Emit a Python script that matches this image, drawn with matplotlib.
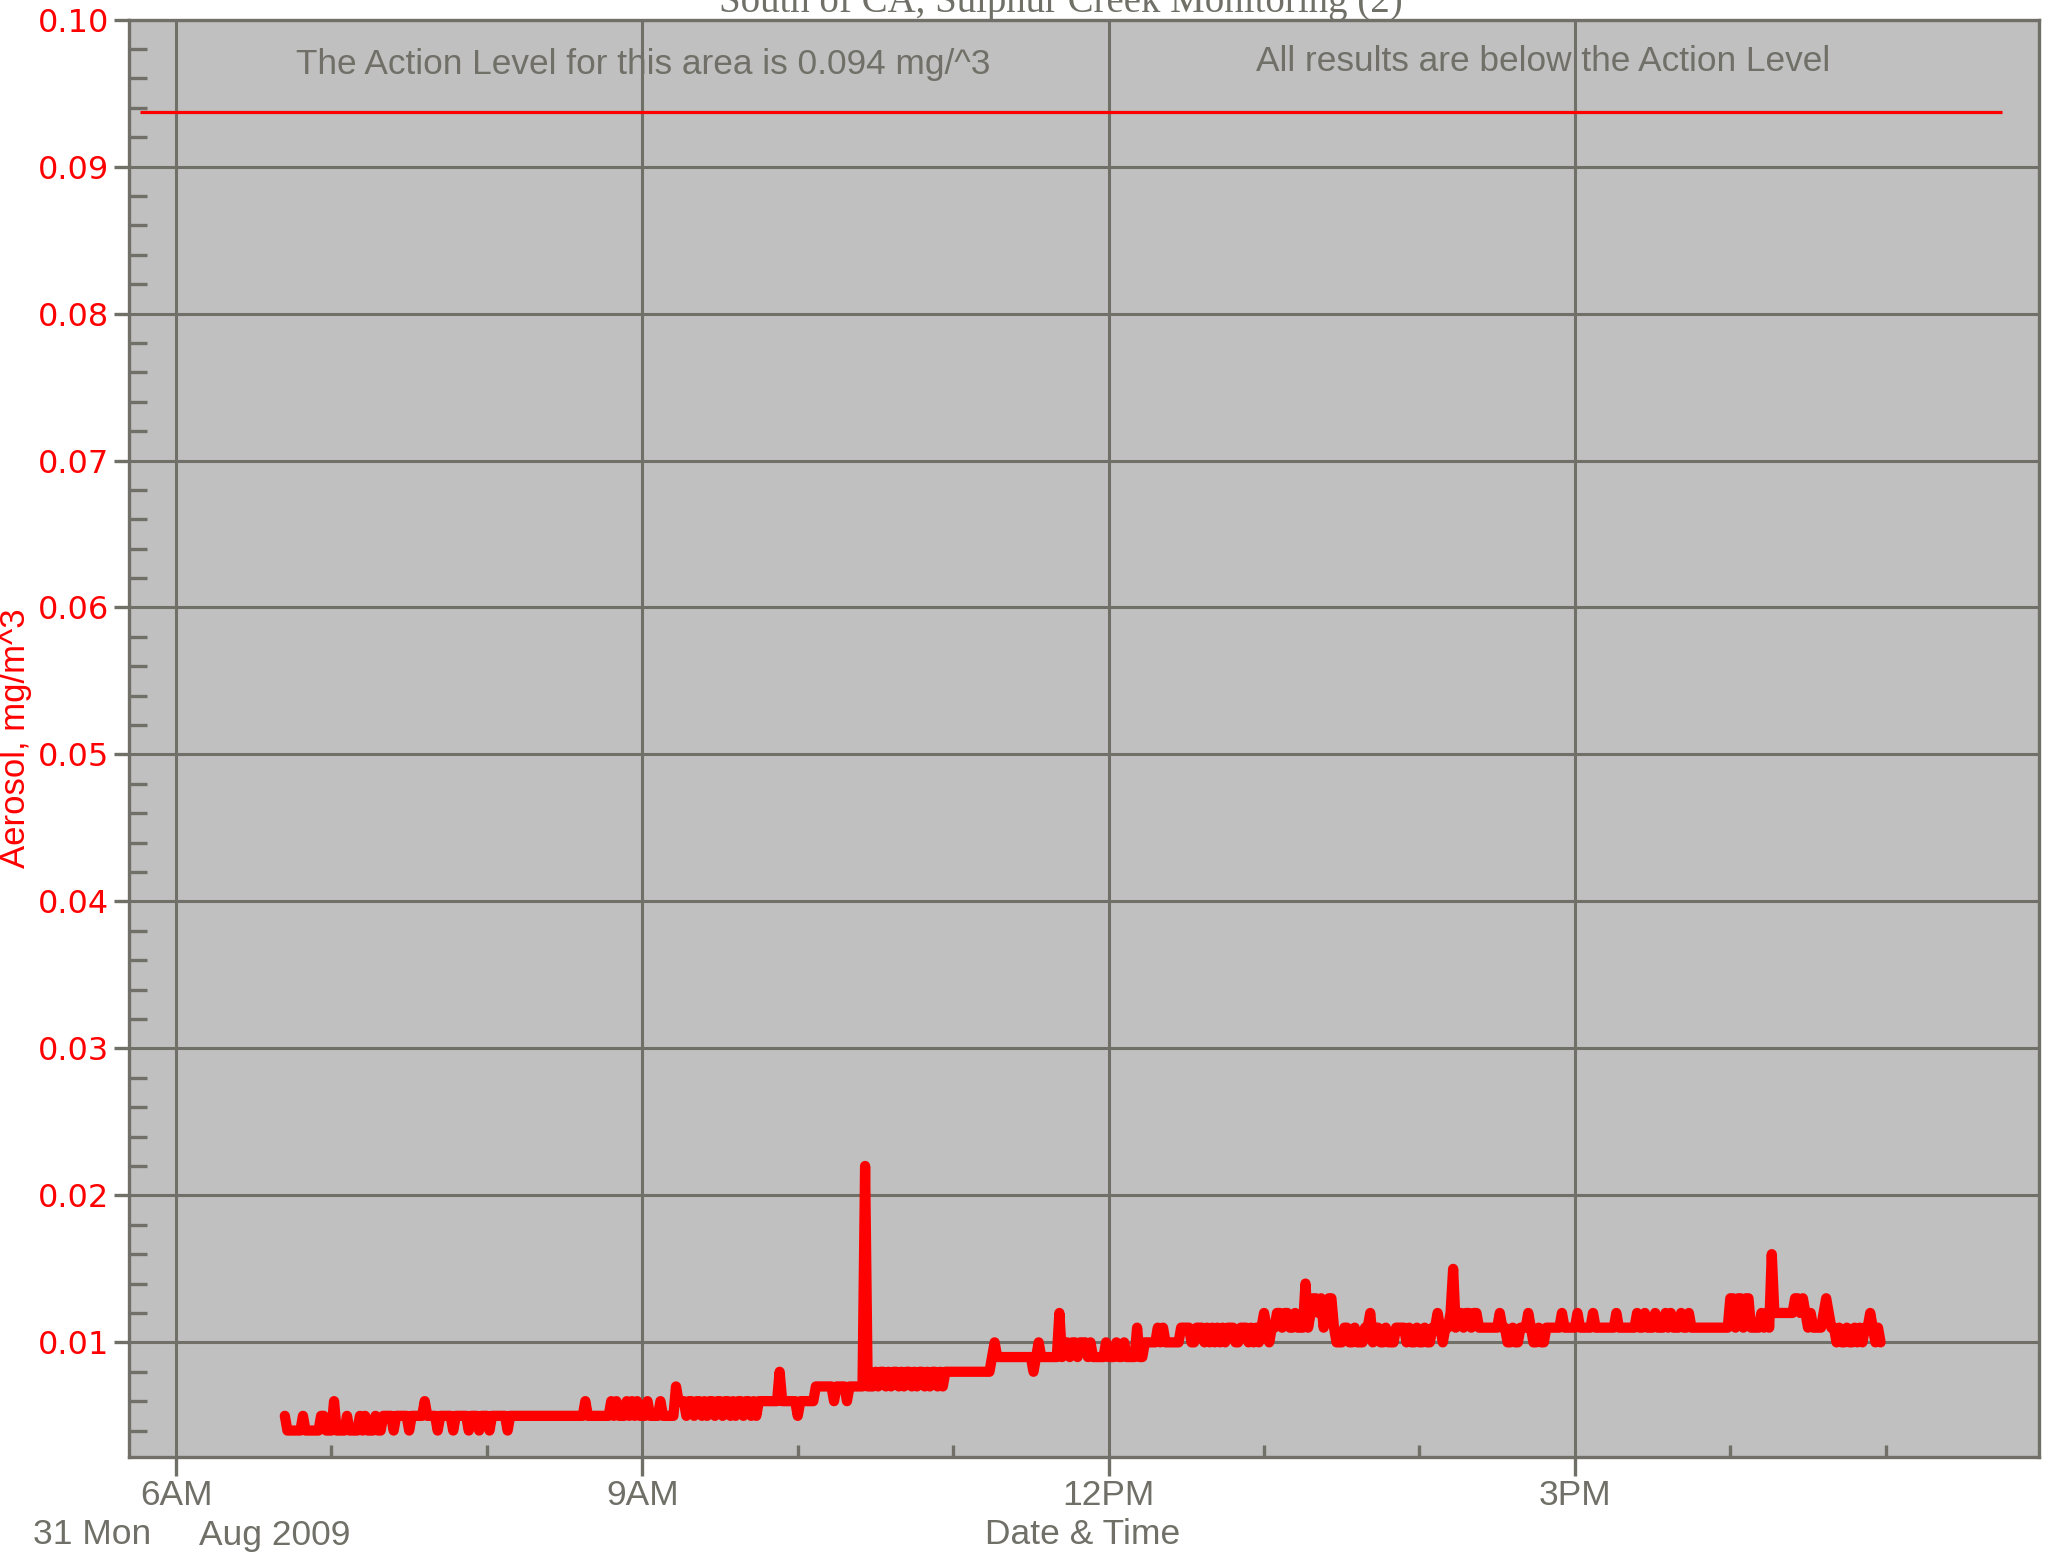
import matplotlib
matplotlib.use("Agg")
import matplotlib.pyplot as plt
import matplotlib.dates as mdates
import matplotlib.ticker as mticker
import numpy as np
import pandas as pd

# ---------------- data ----------------
title = "South of CA, Sulphur Creek Monitoring (2)"
series_start = "2009-08-31 06:42"   # first sample, 1-minute samples
# Aerosol readings in ug/m^3 (= 0.001 mg/m^3), one row per 10 minutes
aerosol_ug = (
    [5, 4, 4, 4, 4, 4, 4, 5] +                       # 06:42-06:49
    [4, 4, 4, 4, 4, 4, 5, 5, 4, 4] +                 # 06:50
    [4, 6, 4, 4, 4, 4, 5, 4, 4, 4] +                 # 07:00
    [4, 5, 4, 5, 4, 4, 4, 5, 4, 4] +                 # 07:10
    [5, 5, 5, 5, 4, 5, 5, 5, 5, 5] +                 # 07:20
    [4, 5, 5, 5, 5, 5, 6, 5, 5, 5] +                 # 07:30
    [5, 4, 5, 5, 5, 5, 5, 4, 5, 5] +                 # 07:40
    [5, 5, 5, 4, 5, 5, 5, 4, 5, 5] +                 # 07:50
    [5, 4, 5, 5, 5, 5, 5, 5, 4, 5] +                 # 08:00
    [5, 5, 5, 5, 5, 5, 5, 5, 5, 5] +                 # 08:10
    [5, 5, 5, 5, 5, 5, 5, 5, 5, 5] +                 # 08:20
    [5, 5, 5, 5, 5, 5, 5, 5, 6, 5] +                 # 08:30
    [5, 5, 5, 5, 5, 5, 5, 5, 6, 5] +                 # 08:40
    [6, 5, 5, 5, 6, 5, 6, 5, 6, 5] +                 # 08:50
    [5, 5, 6, 5, 5, 5, 5, 6, 5, 5] +                 # 09:00
    [5, 5, 5, 7, 6, 6, 6, 5, 6, 6] +                 # 09:10
    [5, 6, 6, 5, 6, 5, 6, 6, 5, 6] +                 # 09:20
    [6, 5, 6, 6, 5, 6, 5, 6, 6, 5] +                 # 09:30
    [6, 6, 5, 6, 5, 6, 6, 6, 6, 6] +                 # 09:40
    [6, 6, 6, 8, 6, 6, 6, 6, 6, 6] +                 # 09:50
    [5, 6, 6, 6, 6, 6, 6, 7, 7, 7] +                 # 10:00
    [7, 7, 7, 7, 6, 7, 7, 7, 7, 6] +                 # 10:10
    [7, 7, 7, 7, 7, 7, 22, 7, 7, 7] +                # 10:20
    [8, 7, 8, 8, 7, 8, 7, 8, 8, 7] +                 # 10:30
    [8, 7, 8, 8, 7, 8, 7, 8, 8, 7] +                 # 10:40
    [8, 7, 8, 8, 7, 8, 7, 8, 8, 8] +                 # 10:50
    [8, 8, 8, 8, 8, 8, 8, 8, 8, 8] +                 # 11:00
    [8, 8, 8, 8, 8, 9, 10, 9, 9, 9] +                # 11:10
    [9, 9, 9, 9, 9, 9, 9, 9, 9, 9] +                 # 11:20
    [9, 8, 9, 10, 9, 9, 9, 9, 9, 9] +                # 11:30
    [9, 12, 9, 10, 10, 9, 10, 10, 9, 10] +           # 11:40
    [10, 10, 9, 10, 9, 9, 9, 9, 9, 10] +             # 11:50
    [9, 9, 9, 10, 9, 9, 10, 9, 9, 9] +               # 12:00
    [9, 11, 9, 9, 10, 10, 10, 10, 10, 11] +          # 12:10
    [10, 11, 10, 10, 10, 10, 10, 10, 11, 11] +       # 12:20
    [11, 11, 10, 10, 11, 11, 11, 10, 11, 10] +       # 12:30
    [11, 10, 11, 10, 11, 10, 11, 11, 11, 10] +       # 12:40
    [10, 11, 11, 11, 10, 11, 10, 11, 10, 11] +       # 12:50
    [12, 11, 10, 11, 11, 12, 12, 11, 12, 12] +       # 13:00
    [11, 11, 12, 11, 11, 11, 14, 11, 12, 13] +       # 13:10
    [13, 12, 13, 11, 12, 13, 13, 11, 10, 10] +       # 13:20
    [10, 11, 11, 10, 10, 11, 10, 10, 10, 11] +       # 13:30
    [11, 12, 10, 11, 11, 10, 10, 11, 10, 10] +       # 13:40
    [10, 11, 11, 11, 11, 10, 11, 10, 10, 11] +       # 13:50
    [10, 10, 11, 10, 10, 11, 11, 12, 11, 10] +       # 14:00
    [11, 11, 12, 15, 11, 12, 12, 11, 12, 12] +       # 14:10
    [11, 12, 12, 11, 11, 11, 11, 11, 11, 11] +       # 14:20
    [11, 12, 11, 11, 10, 10, 11, 10, 10, 11] +       # 14:30
    [11, 11, 12, 11, 10, 10, 11, 10, 10, 11] +       # 14:40
    [11, 11, 11, 11, 11, 12, 11, 11, 11, 11] +       # 14:50
    [11, 12, 11, 11, 11, 11, 11, 12, 11, 11] +       # 15:00
    [11, 11, 11, 11, 11, 11, 12, 11, 11, 11] +       # 15:10
    [11, 11, 11, 11, 12, 11, 11, 12, 11, 11] +       # 15:20
    [11, 12, 11, 11, 11, 12, 11, 12, 11, 11] +       # 15:30
    [11, 12, 11, 11, 12, 11, 11, 11, 11, 11] +       # 15:40
    [11, 11, 11, 11, 11, 11, 11, 11, 11, 11] +       # 15:50
    [13, 13, 11, 13, 13, 11, 13, 13, 11, 11] +       # 16:00
    [11, 11, 12, 11, 12, 11, 16, 12, 12, 12] +       # 16:10
    [12, 12, 12, 12, 12, 13, 13, 12, 13, 12] +       # 16:20
    [11, 12, 11, 11, 11, 11, 12, 13, 12, 11] +       # 16:30
    [11, 10, 11, 10, 10, 11, 10, 10, 11, 10] +       # 16:40
    [11, 10, 11, 11, 12, 11, 10, 11, 10]             # 16:50-16:58
)

action_level = 0.0937
action_line_start = "2009-08-31 05:46"
action_line_end = "2009-08-31 17:45"
x_start = "2009-08-31 05:42"
x_end = "2009-08-31 17:59"
y_range = (0.0022, 0.100)
y_major_ticks = [0.01, 0.02, 0.03, 0.04, 0.05, 0.06, 0.07, 0.08, 0.09, 0.10]
x_major_ticks = ["2009-08-31 06:00", "2009-08-31 09:00", "2009-08-31 12:00", "2009-08-31 15:00"]
x_tick_labels = ["6AM", "9AM", "12PM", "3PM"]
note_left = "The Action Level for this area is 0.094 mg/^3"
note_right = "All results are below the Action Level"
y_label = "Aerosol, mg/m^3"
x_label = "Date & Time"
date_day = "31 Mon"
date_month = "Aug 2009"

# ---------------- figure ----------------
W, H = 2049, 1553
fig = plt.figure(figsize=(W / 100, H / 100), dpi=100)
fig.patch.set_facecolor("white")

L, R, T, B = 129.4, 2038.6, 19.6, 1457.0
ax = fig.add_axes([L / W, 1 - B / H, (R - L) / W, (B - T) / H])

gray = "#707068"
red = "#ff0000"
ax.set_facecolor("#c0c0c0")

times = pd.date_range(series_start, periods=len(aerosol_ug), freq="min")
values = np.array(aerosol_ug) * 0.001

ax.plot(times, values, color=red, lw=7.4, solid_joinstyle="round",
        solid_capstyle="round", zorder=3)

ax.hlines(action_level, pd.Timestamp(action_line_start), pd.Timestamp(action_line_end),
          color=red, lw=2.3, zorder=3)

ax.set_xlim(pd.Timestamp(x_start), pd.Timestamp(x_end))
ax.set_ylim(*y_range)

# grid & spines
for s in ax.spines.values():
    s.set_color(gray)
    s.set_linewidth(2.4)
ax.grid(True, which="major", color=gray, lw=2.2, zorder=1)
ax.set_axisbelow(True)

# y ticks
ax.yaxis.set_major_locator(mticker.FixedLocator(y_major_ticks))
ax.yaxis.set_major_formatter(mticker.FormatStrFormatter("%.2f"))
ax.yaxis.set_minor_locator(mticker.MultipleLocator(0.002))
ax.tick_params(axis="y", which="major", direction="out", length=11, width=2.4,
               color=gray, labelcolor=red, labelsize=23, pad=3.5)
ax.tick_params(axis="y", which="minor", direction="in", length=13, width=2.4, color=gray)
for lab in ax.get_yticklabels():
    lab.set_fontfamily("DejaVu Sans")

# x ticks
xmaj = [mdates.date2num(pd.Timestamp(t).to_pydatetime()) for t in x_major_ticks]
ax.xaxis.set_major_locator(mticker.FixedLocator(xmaj))
ax.xaxis.set_major_formatter(mticker.FixedFormatter(x_tick_labels))
ax.xaxis.set_minor_locator(mdates.HourLocator(interval=1))
ax.tick_params(axis="x", which="major", direction="out", length=14, width=2.4,
               color=gray, labelcolor=gray, labelsize=25.5, pad=2)
ax.tick_params(axis="x", which="minor", direction="in", length=9, width=2.4, color=gray)
for lab in ax.get_xticklabels():
    lab.set_fontfamily("Liberation Sans")

# notes inside plot
ax.text(0.269, 0.969, note_left, transform=ax.transAxes, ha="center", va="center",
        color=gray, fontsize=25.4, family="Liberation Sans")
ax.text(0.7405, 0.971, note_right, transform=ax.transAxes, ha="center", va="center",
        color=gray, fontsize=25.4, family="Liberation Sans")

# title (partly cut off at the top, as in the original)
fig.text(1061 / W, 1 - 12 / H, title, ha="center", va="baseline", color=gray,
         fontsize=28, family="Liberation Serif")

# axis labels
fig.text(16 / W, 1 - 738 / H, y_label, rotation=90, ha="center", va="center",
         color=red, fontsize=25, family="Liberation Sans")
fig.text(1083 / W, 1 - 1535 / H, x_label, ha="center", va="center",
         color=gray, fontsize=25.5, family="Liberation Sans")
fig.text(33 / W, 1 - 1535 / H, date_day, ha="left", va="center",
         color=gray, fontsize=25.5, family="Liberation Sans")
fig.text(199 / W, 1 - 1535 / H, date_month, ha="left", va="center",
         color=gray, fontsize=25.5, family="Liberation Sans")

fig.savefig("out.png", dpi=100)
